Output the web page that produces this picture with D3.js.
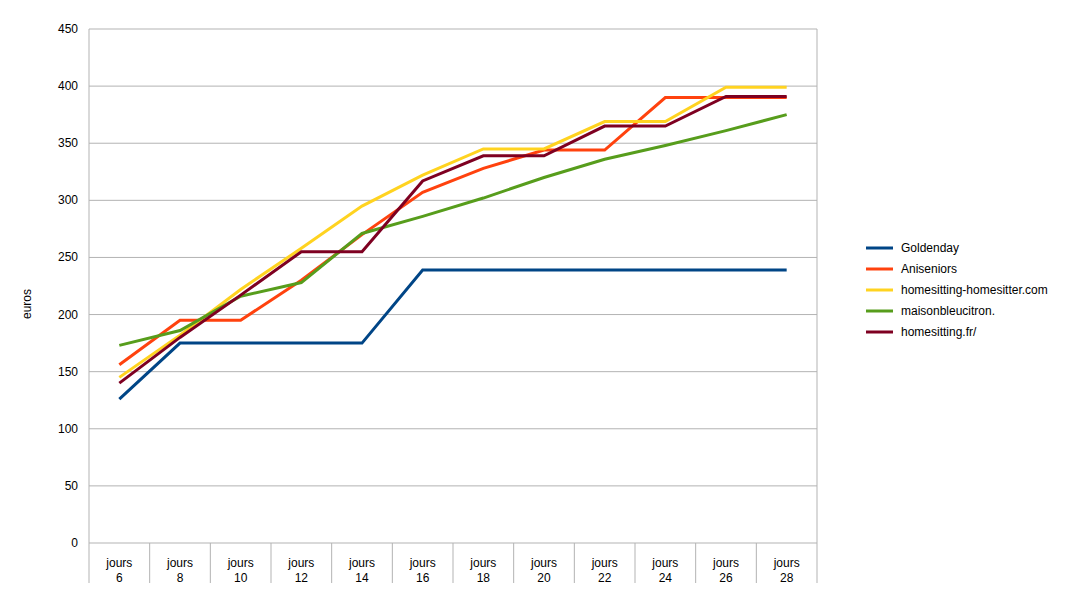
<!DOCTYPE html><html><head><meta charset="utf-8"><script src="https://cdn.jsdelivr.net/npm/d3@7"></script>
<style>body{margin:0;background:#fff}text{font-family:"Liberation Sans",Arial,sans-serif;font-size:12px;fill:#000}</style></head><body><svg width="1079" height="606"></svg><script>
const categories=["6","8","10","12","14","16","18","20","22","24","26","28"];
const seriesNames=["Goldenday","Aniseniors","homesitting-homesitter.com","maisonbleucitron.","homesitting.fr/"];
const colors=["#004586","#ff420e","#ffd320","#579d1c","#7e0021"];
const goldenday=[126,175,175,175,175,239,239,239,239,239,239,239];
const aniseniors=[156,195,195,230,270,307,328,344,344,390,390,390];
const homesitter=[145,182,222,258,295,322,345,345,369,369,399,399];
const maisonbleu=[173,186,216,228,271,286,302,320,336,348,361,375];
const homesittingfr=[140,180,217,255,255,317,339,339,365,365,391,391];
const yTicks=[0,50,100,150,200,250,300,350,400,450];
const data=[goldenday,aniseniors,homesitter,maisonbleu,homesittingfr];
const svg=d3.select("svg");
const L=89,R=817,T=29,B=543;
const x=d3.scaleBand().domain(categories).range([L,R]);
const y=d3.scaleLinear().domain([0,450]).range([B,T]);
svg.append("g").selectAll("line").data(yTicks).join("line").attr("x1",L).attr("x2",R).attr("y1",d=>y(d)).attr("y2",d=>y(d)).attr("stroke","#b3b3b3");
svg.append("line").attr("x1",R).attr("x2",R).attr("y1",T).attr("y2",B).attr("stroke","#b3b3b3");
svg.append("line").attr("x1",L).attr("x2",L).attr("y1",T).attr("y2",583).attr("stroke","#b3b3b3");
svg.append("g").selectAll("line").data(categories.slice(1).concat(["end"])).join("line").attr("x1",(d,i)=>L+(i+1)*x.bandwidth()).attr("x2",(d,i)=>L+(i+1)*x.bandwidth()).attr("y1",B).attr("y2",583).attr("stroke","#b3b3b3");
svg.append("g").selectAll("text").data(yTicks).join("text").attr("x",L-11).attr("y",d=>y(d)+4).attr("text-anchor","end").text(d=>d);
const xl=svg.append("g").selectAll("text").data(categories).join("text").attr("text-anchor","middle").attr("x",d=>x(d)+x.bandwidth()/2);
xl.append("tspan").attr("y",567).text("jours");
xl.append("tspan").attr("x",d=>x(d)+x.bandwidth()/2).attr("y",582).text(d=>d);
svg.append("text").attr("transform","translate(31,304) rotate(-90)").attr("text-anchor","middle").text("euros");
const line=d3.line().x((d,i)=>x(categories[i])+x.bandwidth()/2).y(d=>y(d));
data.forEach((s,k)=>svg.append("path").attr("d",line(s)).attr("fill","none").attr("stroke",colors[k]).attr("stroke-width",3));
const lg=svg.append("g").selectAll("g").data(seriesNames).join("g").attr("transform",(d,i)=>`translate(866,${248+i*21})`);
lg.append("line").attr("x1",0).attr("x2",27).attr("stroke",(d,i)=>colors[i]).attr("stroke-width",3);
lg.append("text").attr("x",35).attr("y",4).text(d=>d);
</script></body></html>
